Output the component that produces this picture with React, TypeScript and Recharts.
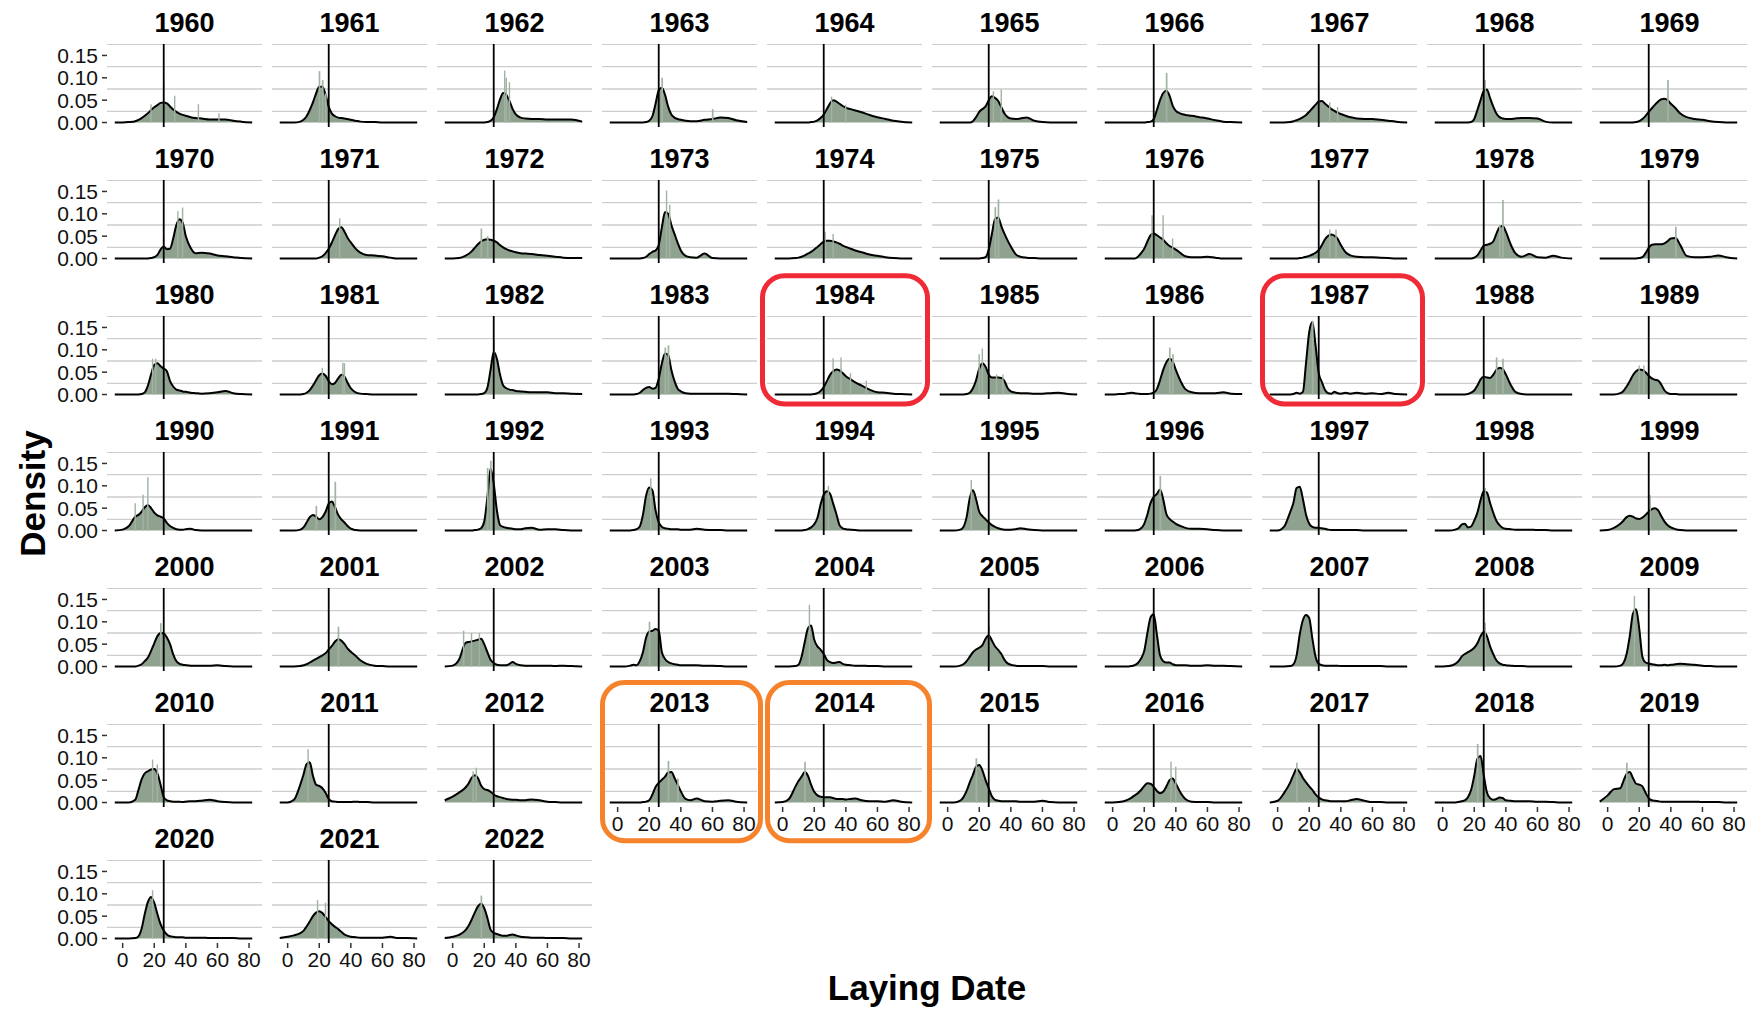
import React from 'react'
import { ComposedChart, Area, Bar, XAxis, YAxis, CartesianGrid, ReferenceLine } from 'recharts'

const FONT = "'Liberation Sans', Arial, Helvetica, sans-serif"

// laying day grid shared by every density curve
const days = [-5, 0, 4, 8, 10, 12, 14, 16, 18, 20, 22, 24, 26, 28, 30, 32, 34, 36, 38, 40, 43, 46, 50, 55, 60, 65, 70, 75, 82]

// kernel density of laying date per year, in thousandths
const d1960 = [0, 0, 1, 3, 6, 10, 15, 21, 28, 34, 39, 44, 45, 43, 36, 29, 24, 20, 17, 15, 12, 10, 9, 7, 7, 7, 4, 2, 0]
const d1961 = [0, 0, 0, 2, 6, 14, 28, 45, 65, 80, 80, 62, 35, 20, 14, 11, 10, 9, 8, 6, 4, 2, 1, 1, 0, 0, 0, 0, 0]
const d1962 = [0, 0, 0, 0, 0, 0, 0, 0, 0, 0, 1, 4, 12, 30, 52, 66, 62, 48, 30, 18, 11, 9, 8, 8, 7, 7, 7, 7, 2]
const d1963 = [0, 0, 0, 0, 0, 0, 0, 0, 1, 4, 14, 42, 72, 78, 62, 35, 18, 11, 8, 6, 4, 3, 3, 6, 8, 11, 10, 5, 1]
const d1964 = [0, 0, 0, 0, 0, 0, 0, 0, 1, 2, 5, 10, 18, 30, 43, 50, 47, 42, 37, 33, 30, 27, 23, 17, 12, 8, 4, 2, 0]
const d1965 = [0, 0, 0, 0, 0, 0, 0, 3, 12, 24, 30, 36, 50, 59, 55, 48, 34, 20, 12, 9, 8, 9, 11, 4, 1, 0, 0, 0, 0]
const d1966 = [0, 0, 0, 0, 0, 0, 0, 0, 0, 0, 1, 2, 8, 28, 50, 66, 71, 60, 38, 26, 20, 17, 15, 12, 9, 5, 2, 1, 0]
const d1967 = [0, 0, 0, 1, 3, 5, 8, 12, 17, 24, 32, 40, 47, 48, 42, 36, 30, 26, 22, 19, 15, 12, 9, 8, 8, 6, 4, 2, 0]
const d1968 = [0, 0, 0, 0, 0, 0, 0, 0, 1, 8, 28, 50, 70, 74, 55, 36, 20, 12, 9, 8, 8, 9, 10, 10, 9, 2, 0, 0, 0]
const d1969 = [0, 0, 0, 0, 0, 0, 0, 0, 1, 3, 8, 15, 24, 32, 40, 47, 52, 53, 50, 42, 32, 20, 12, 8, 6, 3, 1, 0, 0]
const d1970 = [0, 0, 0, 0, 0, 0, 0, 0, 1, 3, 8, 20, 27, 21, 22, 45, 75, 88, 80, 50, 24, 12, 13, 11, 7, 5, 3, 1, 0]
const d1971 = [0, 0, 0, 0, 0, 0, 0, 0, 0, 2, 5, 12, 22, 36, 52, 66, 70, 60, 46, 36, 22, 13, 8, 7, 5, 2, 0, 0, 0]
const d1972 = [0, 0, 1, 6, 10, 16, 24, 32, 38, 42, 43, 42, 40, 36, 30, 25, 21, 18, 16, 14, 12, 11, 10, 8, 6, 4, 2, 1, 1]
const d1973 = [0, 0, 0, 0, 0, 0, 0, 1, 4, 10, 15, 18, 30, 70, 104, 100, 75, 55, 35, 18, 6, 3, 2, 11, 1, 0, 0, 0, 0]
const d1974 = [0, 0, 0, 1, 2, 4, 7, 11, 15, 20, 26, 32, 38, 40, 40, 38, 36, 33, 29, 26, 22, 18, 14, 9, 6, 3, 1, 0, 0]
const d1975 = [0, 0, 0, 0, 0, 0, 0, 0, 0, 0, 1, 3, 20, 55, 88, 92, 72, 55, 40, 27, 10, 4, 2, 1, 0, 0, 0, 0, 0]
const d1976 = [0, 0, 0, 0, 0, 0, 0, 4, 12, 22, 38, 52, 56, 52, 47, 42, 34, 28, 24, 20, 12, 5, 3, 3, 4, 2, 0, 0, 0]
const d1977 = [0, 0, 0, 0, 0, 0, 1, 2, 4, 6, 9, 13, 19, 30, 43, 51, 54, 51, 44, 30, 14, 7, 4, 3, 3, 2, 1, 0, 0]
const d1978 = [0, 0, 0, 0, 0, 0, 0, 0, 0, 2, 7, 18, 29, 31, 33, 38, 55, 70, 73, 60, 32, 12, 4, 10, 3, 2, 6, 2, 0]
const d1979 = [0, 0, 0, 0, 0, 0, 0, 0, 0, 1, 3, 12, 24, 31, 32, 32, 32, 34, 39, 45, 46, 30, 6, 3, 3, 4, 7, 3, 0]
const d1980 = [0, 0, 0, 0, 0, 1, 5, 20, 45, 66, 70, 63, 58, 52, 30, 18, 11, 9, 7, 6, 4, 3, 2, 3, 5, 8, 3, 1, 0]
const d1981 = [0, 0, 0, 0, 1, 4, 10, 20, 32, 43, 47, 42, 30, 23, 26, 36, 44, 40, 26, 14, 5, 2, 1, 0, 0, 0, 0, 0, 0]
const d1982 = [0, 0, 0, 0, 0, 0, 0, 0, 1, 3, 15, 55, 95, 80, 44, 20, 14, 11, 10, 8, 7, 6, 5, 5, 5, 3, 3, 2, 1]
const d1983 = [0, 0, 0, 0, 0, 1, 4, 10, 15, 17, 13, 15, 35, 70, 92, 88, 55, 30, 13, 7, 3, 2, 2, 2, 2, 2, 2, 1, 0]
const d1984 = [0, 0, 0, 0, 0, 0, 0, 0, 0, 1, 3, 8, 17, 30, 44, 52, 56, 54, 48, 41, 34, 27, 20, 11, 5, 4, 2, 1, 0]
const d1985 = [0, 0, 0, 0, 0, 1, 4, 14, 32, 58, 70, 62, 45, 38, 38, 38, 37, 30, 14, 7, 4, 3, 3, 2, 2, 3, 4, 2, 0]
const d1986 = [0, 0, 1, 2, 3, 4, 3, 2, 1, 1, 1, 2, 4, 12, 32, 55, 72, 80, 74, 55, 30, 12, 5, 3, 3, 3, 5, 2, 1]
const d1987 = [0, 0, 0, 0, 1, 4, 2, 6, 72, 140, 162, 110, 48, 28, 10, 3, 2, 6, 3, 2, 4, 2, 4, 2, 3, 1, 4, 1, 0]
const d1988 = [0, 0, 0, 0, 0, 0, 0, 1, 4, 9, 20, 34, 40, 38, 37, 44, 55, 60, 57, 45, 22, 6, 1, 0, 0, 0, 0, 0, 0]
const d1989 = [0, 0, 0, 3, 8, 18, 30, 43, 52, 56, 55, 50, 42, 36, 33, 31, 22, 9, 3, 1, 1, 0, 0, 0, 0, 0, 0, 0, 0]
const d1990 = [0, 2, 10, 31, 35, 42, 52, 57, 50, 40, 34, 31, 27, 17, 10, 6, 3, 2, 2, 3, 4, 1, 0, 0, 0, 0, 0, 0, 0]
const d1991 = [0, 0, 0, 2, 7, 18, 30, 35, 31, 25, 30, 42, 60, 65, 52, 35, 25, 18, 10, 4, 1, 0, 0, 0, 0, 0, 0, 0, 0]
const d1992 = [0, 0, 0, 0, 0, 0, 1, 2, 5, 20, 75, 138, 105, 45, 12, 8, 6, 5, 4, 3, 3, 5, 6, 2, 3, 3, 1, 0, 0]
const d1993 = [0, 0, 0, 0, 1, 3, 9, 35, 78, 96, 90, 45, 18, 8, 5, 4, 3, 3, 3, 2, 2, 2, 4, 2, 1, 1, 0, 0, 0]
const d1994 = [0, 0, 0, 0, 0, 0, 1, 3, 7, 14, 28, 58, 80, 88, 82, 60, 37, 12, 5, 3, 2, 1, 0, 0, 0, 0, 0, 0, 0]
const d1995 = [0, 0, 0, 2, 8, 30, 72, 90, 70, 42, 32, 25, 18, 12, 8, 5, 3, 2, 2, 2, 3, 5, 3, 1, 0, 0, 0, 0, 0]
const d1996 = [0, 0, 0, 0, 0, 0, 0, 1, 5, 15, 36, 62, 75, 82, 92, 70, 37, 26, 20, 15, 10, 6, 4, 4, 3, 1, 0, 0, 0]
const d1997 = [0, 0, 8, 42, 62, 95, 98, 70, 35, 15, 8, 6, 6, 5, 4, 2, 1, 1, 1, 1, 1, 1, 1, 0, 0, 0, 0, 0, 0]
const d1998 = [0, 0, 0, 2, 5, 13, 15, 7, 9, 22, 40, 68, 88, 85, 62, 40, 22, 12, 6, 4, 3, 2, 2, 2, 1, 1, 0, 0, 0]
const d1999 = [0, 1, 6, 15, 22, 30, 33, 31, 27, 26, 29, 35, 42, 48, 50, 45, 32, 20, 12, 7, 3, 1, 0, 0, 0, 0, 0, 0, 0]
const d2000 = [0, 0, 0, 0, 2, 5, 12, 20, 35, 52, 68, 75, 74, 65, 50, 27, 12, 6, 4, 3, 2, 2, 2, 2, 3, 1, 0, 0, 0]
const d2001 = [0, 0, 0, 1, 3, 5, 9, 13, 17, 21, 25, 30, 38, 46, 56, 61, 58, 50, 40, 33, 24, 14, 6, 2, 1, 0, 0, 0, 0]
const d2002 = [0, 2, 15, 52, 55, 56, 58, 60, 62, 50, 32, 15, 8, 4, 3, 3, 3, 6, 10, 6, 3, 2, 2, 2, 2, 1, 2, 1, 0]
const d2003 = [0, 0, 0, 2, 4, 3, 12, 32, 65, 78, 80, 84, 80, 32, 17, 10, 7, 5, 4, 3, 3, 3, 3, 2, 2, 1, 0, 0, 0]
const d2004 = [0, 0, 0, 1, 4, 22, 55, 85, 92, 60, 45, 38, 28, 15, 10, 8, 9, 10, 6, 4, 3, 2, 2, 1, 1, 0, 0, 0, 0]
const d2005 = [0, 0, 0, 2, 5, 12, 22, 32, 38, 42, 48, 62, 70, 58, 45, 37, 28, 15, 7, 4, 2, 1, 1, 1, 1, 0, 0, 0, 0]
const d2006 = [0, 0, 0, 0, 0, 1, 3, 8, 18, 35, 75, 110, 117, 72, 25, 12, 9, 9, 5, 3, 3, 3, 2, 2, 3, 2, 2, 1, 0]
const d2007 = [0, 0, 0, 1, 5, 25, 72, 104, 115, 108, 62, 22, 6, 3, 2, 2, 2, 2, 2, 1, 1, 1, 1, 1, 1, 1, 0, 0, 0]
const d2008 = [0, 0, 1, 6, 12, 22, 28, 32, 36, 42, 52, 68, 77, 68, 45, 28, 14, 7, 4, 3, 2, 1, 1, 0, 0, 0, 0, 0, 0]
const d2009 = [0, 0, 0, 2, 8, 28, 68, 118, 128, 85, 22, 9, 7, 5, 4, 3, 3, 4, 3, 4, 5, 6, 5, 4, 2, 1, 0, 0, 0]
const d2010 = [0, 0, 0, 6, 28, 52, 65, 70, 74, 75, 65, 40, 12, 5, 3, 2, 2, 2, 1, 2, 3, 3, 4, 6, 3, 1, 0, 0, 0]
const d2011 = [0, 0, 6, 40, 62, 86, 90, 60, 40, 37, 32, 22, 8, 3, 2, 1, 1, 1, 1, 1, 2, 1, 1, 0, 0, 0, 0, 0, 0]
const d2012 = [5, 13, 22, 33, 42, 55, 61, 55, 38, 30, 28, 24, 18, 14, 12, 10, 8, 7, 6, 6, 5, 5, 7, 5, 2, 1, 0, 0, 0]
const d2013 = [0, 0, 0, 0, 0, 0, 0, 1, 2, 5, 18, 35, 44, 51, 58, 67, 68, 55, 40, 25, 8, 5, 9, 3, 2, 4, 5, 2, 0]
const d2014 = [0, 1, 8, 35, 48, 58, 68, 60, 40, 24, 16, 13, 12, 12, 12, 10, 8, 8, 8, 7, 8, 9, 5, 3, 3, 2, 5, 2, 0]
const d2015 = [0, 0, 0, 4, 12, 26, 45, 62, 80, 84, 72, 50, 32, 14, 6, 4, 3, 3, 3, 3, 3, 2, 2, 2, 4, 1, 0, 0, 0]
const d2016 = [0, 0, 1, 4, 7, 11, 16, 21, 28, 37, 43, 42, 35, 26, 21, 24, 36, 50, 54, 42, 22, 8, 2, 1, 1, 0, 0, 0, 0]
const d2017 = [0, 4, 21, 45, 62, 75, 68, 55, 45, 36, 28, 18, 11, 7, 5, 4, 3, 3, 3, 3, 3, 5, 8, 4, 1, 1, 0, 0, 0]
const d2018 = [0, 0, 0, 0, 1, 3, 5, 12, 28, 60, 98, 104, 62, 23, 10, 6, 8, 11, 10, 5, 4, 3, 3, 3, 2, 2, 1, 0, 0]
const d2019 = [2, 16, 30, 32, 48, 64, 68, 55, 42, 40, 36, 22, 10, 5, 4, 3, 2, 2, 2, 2, 2, 2, 2, 2, 1, 1, 1, 0, 0]
const d2020 = [0, 0, 0, 1, 5, 22, 55, 82, 93, 80, 55, 32, 18, 9, 5, 4, 3, 3, 3, 2, 2, 2, 2, 1, 1, 1, 1, 0, 0]
const d2021 = [1, 4, 7, 12, 17, 27, 38, 50, 58, 61, 57, 48, 39, 32, 26, 21, 15, 9, 6, 4, 3, 2, 2, 2, 2, 4, 1, 1, 0]
const d2022 = [1, 4, 8, 18, 28, 42, 58, 72, 78, 68, 46, 20, 13, 10, 8, 6, 6, 8, 9, 7, 4, 3, 2, 2, 1, 1, 1, 0, 0]

const curves = [
  d1960, d1961, d1962, d1963, d1964, d1965, d1966, d1967, d1968, d1969,
  d1970, d1971, d1972, d1973, d1974, d1975, d1976, d1977, d1978, d1979,
  d1980, d1981, d1982, d1983, d1984, d1985, d1986, d1987, d1988, d1989,
  d1990, d1991, d1992, d1993, d1994, d1995, d1996, d1997, d1998, d1999,
  d2000, d2001, d2002, d2003, d2004, d2005, d2006, d2007, d2008, d2009,
  d2010, d2011, d2012, d2013, d2014, d2015, d2016, d2017, d2018, d2019,
  d2020, d2021, d2022,
]
const years = curves.map((_, i) => 1960 + i)

// histogram bins that stick out above the density: [year, day, density in thousandths]
const tallBins = [
  [1960, 26, 91], [1960, 33, 60], [1960, 18, 41], [1960, 48, 41], [1960, 61, 21],
  [1961, 20, 115], [1961, 22, 95], [1961, 24, 65],
  [1962, 33, 116], [1962, 34, 100], [1962, 36, 90],
  [1963, 28, 100], [1963, 60, 30],
  [1964, 31, 58], [1964, 40, 40],
  [1965, 29, 70], [1965, 34, 74],
  [1966, 34, 111],
  [1967, 26, 84], [1967, 33, 45], [1967, 38, 35],
  [1968, 27, 95],
  [1969, 38, 95],
  [1970, 35, 106], [1970, 38, 114], [1970, 26, 45],
  [1971, 33, 90],
  [1972, 18, 67], [1972, 22, 50],
  [1973, 31, 152], [1973, 33, 120],
  [1974, 27, 60], [1974, 32, 55],
  [1975, 30, 115], [1975, 32, 132],
  [1976, 25, 97], [1976, 32, 97], [1976, 38, 45],
  [1977, 33, 65], [1977, 37, 65],
  [1978, 38, 131], [1978, 36, 75],
  [1979, 43, 71],
  [1980, 21, 80], [1980, 19, 80],
  [1981, 35, 71], [1981, 36, 70], [1981, 22, 60],
  [1982, 26, 122],
  [1983, 30, 105], [1983, 32, 110],
  [1984, 32, 81], [1984, 37, 83], [1984, 43, 48], [1984, 53, 31],
  [1985, 22, 103], [1985, 20, 90], [1985, 31, 45], [1985, 35, 45],
  [1986, 36, 105], [1986, 38, 90],
  [1987, 22, 165],
  [1988, 34, 83], [1988, 38, 80],
  [1989, 20, 65], [1989, 23, 65],
  [1990, 16, 119], [1990, 13, 80], [1990, 8, 61],
  [1991, 30, 109], [1991, 18, 55],
  [1992, 24, 156], [1992, 22, 140],
  [1993, 21, 117],
  [1994, 29, 100],
  [1995, 15, 113],
  [1996, 30, 122],
  [1998, 27, 95],
  [1999, 27, 79],
  [2000, 24, 97],
  [2001, 32, 89],
  [2002, 7, 80], [2002, 12, 75], [2002, 17, 75],
  [2003, 20, 100],
  [2004, 17, 138],
  [2005, 26, 90],
  [2008, 27, 98],
  [2009, 17, 158],
  [2010, 19, 96], [2010, 22, 85],
  [2011, 13, 119],
  [2012, 15, 78], [2012, 13, 70],
  [2013, 32, 93], [2013, 38, 54],
  [2014, 14, 91],
  [2015, 18, 99],
  [2016, 37, 91], [2016, 40, 80],
  [2017, 12, 89],
  [2018, 22, 131],
  [2019, 12, 89],
  [2020, 19, 108],
  [2021, 19, 86], [2021, 24, 80],
  [2022, 18, 96],
]

const xTicks = [0, 20, 40, 60, 80]
const yTicks = [0, 50, 100, 150]
const gridValues = [25, 75, 125, 175]
const REFERENCE_DAY = 26

// facet geometry
const PANEL_W = 155
const PANEL_H = 83
const COL_STEP = 165
const ROW_STEP = 136
const LEFT0 = 107
const TOP0 = 44
const Y_AXIS_W = 62
const X_AXIS_H = 32
const LABEL_ROOM = 14 // keeps the 0.00 label inside the svg when no x axis sits below
const NCOL = 10

const highlights = [
  { year: 1984, color: '#ee2b36', dx: -4.5, dy: -40.2, w: 165, h: 128.2 },
  { year: 1987, color: '#ee2b36', dx: 0.5, dy: -40.2, w: 160, h: 128.2 },
  { year: 2013, color: '#f6832b', dx: 0.5, dy: -41.5, w: 158, h: 158.3 },
  { year: 2014, color: '#f6832b', dx: 0.5, dy: -41.5, w: 162, h: 158.3 },
]

function panelPos(i: number) {
  const col = i % NCOL
  const row = Math.floor(i / NCOL)
  return { col, row, left: LEFT0 + col * COL_STEP, top: TOP0 + row * ROW_STEP }
}

function buildRows(year: number, values: number[]) {
  const rows: { x: number; d?: number; h?: number }[] = days.map((x, k) => ({ x, d: values[k] }))
  tallBins
    .filter((b) => b[0] === year)
    .forEach(([, x, h]) => {
      const hit = rows.find((r) => r.x === x)
      if (hit) hit.h = h
      else rows.push({ x, h })
    })
  return rows.sort((a, b) => a.x - b.x)
}

const tickStyle = { fontSize: 21, fill: '#111', fontFamily: FONT }
const tickLineStyle = { stroke: '#333', strokeWidth: 1.5 }

function Panel({ year, values, index }: { year: number; values: number[]; index: number }) {
  const { col, left, top } = panelPos(index)
  const showY = col === 0
  const showX = year >= 2013
  const rows = buildRows(year, values)
  const bottomPad = showX ? 0 : LABEL_ROOM
  const w = PANEL_W + (showY ? Y_AXIS_W : 0)
  const h = PANEL_H + (showX ? X_AXIS_H : 0) + bottomPad

  return (
    <div style={{ position: 'absolute', left: left - (showY ? Y_AXIS_W : 0), top }}>
      <ComposedChart
        width={w}
        height={h}
        data={rows}
        margin={{ top: 0, right: 0, bottom: bottomPad, left: 0 }}
      >
        <CartesianGrid vertical={false} horizontalValues={gridValues} stroke="#cdcdcd" strokeWidth={1.3} />
        <XAxis
          dataKey="x"
          type="number"
          domain={[-9.9, 88.2]}
          allowDataOverflow
          ticks={xTicks}
          interval={0}
          hide={!showX}
          height={X_AXIS_H}
          axisLine={false}
          tickSize={5}
          tickMargin={4}
          tickLine={tickLineStyle}
          tick={tickStyle}
        />
        <YAxis
          type="number"
          domain={[-10, 175.6]}
          allowDataOverflow
          ticks={yTicks}
          interval={0}
          hide={!showY}
          width={Y_AXIS_W}
          axisLine={false}
          tickSize={5}
          tickMargin={4}
          tickLine={tickLineStyle}
          tick={tickStyle}
          tickFormatter={(v: number) => (v / 1000).toFixed(2)}
        />
        <Bar dataKey="h" fill="#a3b3a3" barSize={1.7} isAnimationActive={false} />
        <Area
          type="monotone"
          dataKey="d"
          stroke="#000"
          strokeWidth={2}
          fill="#8fa18f"
          fillOpacity={1}
          connectNulls
          dot={false}
          activeDot={false}
          isAnimationActive={false}
        />
        <ReferenceLine x={REFERENCE_DAY} stroke="#000" strokeWidth={1.8} />
      </ComposedChart>
    </div>
  )
}

export default function App() {
  return (
    <div style={{ position: 'absolute', left: 0, top: 0, width: 1758, height: 1011, background: '#fff', fontFamily: FONT }}>
      {years.map((year, i) => (
        <Panel key={year} year={year} values={curves[i]} index={i} />
      ))}
      <svg width={1758} height={1011} style={{ position: 'absolute', left: 0, top: 0, pointerEvents: 'none' }}>
        {years.map((year, i) => {
          const { left, top } = panelPos(i)
          return (
            <text
              key={year}
              x={left + PANEL_W / 2}
              y={top - 11.7}
              textAnchor="middle"
              fontFamily={FONT}
              fontWeight="bold"
              fontSize={27}
              fill="#000"
            >
              {year}
            </text>
          )
        })}
        <text
          transform="translate(45, 493.5) rotate(-90)"
          textAnchor="middle"
          fontFamily={FONT}
          fontWeight="bold"
          fontSize={35}
          fill="#000"
        >
          Density
        </text>
        <text x={927} y={1000} textAnchor="middle" fontFamily={FONT} fontWeight="bold" fontSize={35} fill="#000">
          Laying Date
        </text>
        {highlights.map((b) => {
          const { left, top } = panelPos(years.indexOf(b.year))
          return (
            <rect
              key={b.year}
              x={left + b.dx}
              y={top + b.dy}
              width={b.w}
              height={b.h}
              rx={22}
              fill="none"
              stroke={b.color}
              strokeWidth={5}
            />
          )
        })}
      </svg>
    </div>
  )
}
